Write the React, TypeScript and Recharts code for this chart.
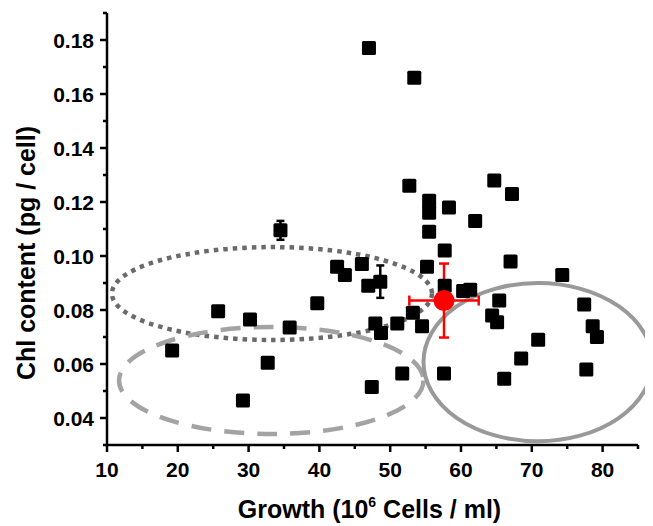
import React from "react";
import { ErrorBar, Label, ReferenceArea, Scatter, ScatterChart, XAxis, YAxis } from "recharts";

// single measurements (growth in 10^6 cells/ml, chl in pg/cell)
const growth = [
    47.0, 53.4, 52.7, 64.7, 67.2, 55.5, 55.5, 58.3, 62.0, 55.5, 57.7, 67.0, 55.2, 74.3, 42.5, 43.6,
    46.0, 46.9, 57.7, 60.3, 61.3, 65.4, 64.4, 65.1, 77.4, 78.6, 79.2, 70.9, 68.5, 77.7, 66.1, 39.7,
    35.8, 47.9, 48.7, 51.0, 53.2, 54.5, 51.7, 47.4, 57.6, 25.7, 30.2, 19.2, 32.7, 29.2,
];
const chl = [
    0.177, 0.166, 0.126, 0.128, 0.123, 0.1205, 0.116, 0.118, 0.113, 0.109, 0.102, 0.098, 0.096, 0.093, 0.096, 0.093,
    0.097, 0.089, 0.089, 0.087, 0.0875, 0.0835, 0.078, 0.0755, 0.082, 0.074, 0.070, 0.069, 0.062, 0.058, 0.0545, 0.0825,
    0.0735, 0.075, 0.0715, 0.075, 0.079, 0.074, 0.0565, 0.0515, 0.0565, 0.0795, 0.0765, 0.065, 0.0605, 0.0465,
];

// measurements with error bars
const errGrowth = [34.5, 48.6];
const errChl = [0.1095, 0.0905];
const errChlSd = [0.0035, 0.006];

// mean of all
const meanGrowth = [57.6];
const meanChl = [0.0835];
const meanGrowthSd = [4.9];
const meanChlSd = [0.0137];

// ellipse bounds (dotted, dashed, solid)
const ellipseX = [[10.7, 55.9], [11.7, 54.7], [54.7, 87.0]];
const ellipseY = [[0.0689, 0.1033], [0.0341, 0.0737], [0.0314, 0.09]];

const xTicks = [10, 15, 20, 25, 30, 35, 40, 45, 50, 55, 60, 65, 70, 75, 80, 85];
const yTicks = [0.03, 0.04, 0.05, 0.06, 0.07, 0.08, 0.09, 0.1, 0.11, 0.12, 0.13, 0.14, 0.15, 0.16, 0.17, 0.18, 0.19];

const points = growth.map((g, i) => ({ x: g, y: chl[i] }));
const errPoints = errGrowth.map((g, i) => ({ x: g, y: errChl[i], ey: errChlSd[i] }));
const meanPoints = meanGrowth.map((g, i) => ({ x: g, y: meanChl[i], ex: meanGrowthSd[i], ey: meanChlSd[i] }));

const font = "'Liberation Sans', Arial, sans-serif";

const Square = (p: any) => (
    <rect x={p.cx - 7} y={p.cy - 7} width={14} height={14} rx={1.5} fill="#000" />
);

const Dot = (p: any) => <circle cx={p.cx} cy={p.cy} r={10.5} fill="#f00" />;

const ellipseStyles = [
    { stroke: "#6a6a6a", dash: "4.5 5", width: 4.5 },
    { stroke: "#a3a3a3", dash: "20 13", width: 4.5 },
    { stroke: "#999999", dash: undefined, width: 4 },
];

const makeEllipse = (i: number) => (p: any) => (
    <ellipse
        cx={p.x + p.width / 2}
        cy={p.y + p.height / 2}
        rx={Math.abs(p.width) / 2}
        ry={Math.abs(p.height) / 2}
        fill="none"
        stroke={ellipseStyles[i].stroke}
        strokeWidth={ellipseStyles[i].width}
        strokeDasharray={ellipseStyles[i].dash}
    />
);

const XTick = (p: any) => {
    const v = p.payload.value;
    const major = v % 10 === 0;
    return (
        <g>
            <line x1={p.x} x2={p.x} y1={p.y} y2={p.y + (major ? 7 : 4)} stroke="#000" strokeWidth={2.5} />
            {major && (
                <text x={p.x} y={p.y + 32} textAnchor="middle" fontSize={21} fontWeight="bold" fontFamily={font} fill="#000">
                    {v}
                </text>
            )}
        </g>
    );
};

const YTick = (p: any) => {
    const v = p.payload.value;
    const k = Math.round(v * 100);
    const major = k % 2 === 0 && k >= 4 && k <= 18;
    return (
        <g>
            <line x1={p.x - (major ? 7 : 4)} x2={p.x} y1={p.y} y2={p.y} stroke="#000" strokeWidth={2.5} />
            {major && (
                <text x={p.x - 13} y={p.y + 7.5} textAnchor="end" fontSize={21} fontWeight="bold" fontFamily={font} fill="#000">
                    {v.toFixed(2)}
                </text>
            )}
        </g>
    );
};

export default function App() {
    return (
        <ScatterChart width={645} height={518} margin={{ top: 5, right: 15, left: 0, bottom: 0 }}>
            <XAxis
                type="number"
                dataKey="x"
                domain={[10, 85]}
                allowDataOverflow
                ticks={xTicks}
                interval={0}
                tickSize={0}
                tickMargin={0}
                tickLine={false}
                tick={XTick}
                axisLine={{ stroke: "#000", strokeWidth: 2.5 }}
                height={81}
            >
                <Label
                    content={(lp: any) => {
                        const vb = lp.viewBox;
                        return (
                            <text
                                x={vb.x + vb.width / 2 - 3}
                                y={vb.y + 73}
                                textAnchor="middle"
                                fontSize={25}
                                fontWeight="bold"
                                fontFamily={font}
                                fill="#000"
                            >
                                Growth (10
                                <tspan dy={-11} fontSize={14}>6</tspan>
                                <tspan dy={11}> Cells / ml)</tspan>
                            </text>
                        );
                    }}
                />
            </XAxis>
            <YAxis
                type="number"
                dataKey="y"
                domain={[0.03, 0.19]}
                allowDataOverflow
                ticks={yTicks}
                interval={0}
                tickSize={0}
                tickMargin={0}
                tickLine={false}
                tick={YTick}
                axisLine={{ stroke: "#000", strokeWidth: 2.5 }}
                width={99}
            >
                <Label
                    content={(lp: any) => {
                        const vb = lp.viewBox;
                        const cy = vb.y + vb.height / 2 + 24;
                        return (
                            <text
                                transform={`translate(27, ${cy}) rotate(-90)`}
                                textAnchor="middle"
                                fontSize={25}
                                fontWeight="bold"
                                fontFamily={font}
                                fill="#000"
                            >
                                Chl content (pg / cell)
                            </text>
                        );
                    }}
                />
            </YAxis>
            <Scatter data={points} shape={Square} isAnimationActive={false} />
            <Scatter data={errPoints} shape={Square} isAnimationActive={false}>
                <ErrorBar dataKey="ey" direction="y" width={4} stroke="#000" strokeWidth={2.5} />
            </Scatter>
            {ellipseX.map((ex, i) => (
                <ReferenceArea
                    key={i}
                    x1={ex[0]}
                    x2={ex[1]}
                    y1={ellipseY[i][0]}
                    y2={ellipseY[i][1]}
                    ifOverflow="visible"
                    shape={makeEllipse(i)}
                />
            ))}
            <Scatter data={meanPoints} shape={Dot} isAnimationActive={false}>
                <ErrorBar dataKey="ey" direction="y" width={5} stroke="#f00" strokeWidth={2.5} />
                <ErrorBar dataKey="ex" direction="x" width={5} stroke="#f00" strokeWidth={2.5} />
            </Scatter>
        </ScatterChart>
    );
}
